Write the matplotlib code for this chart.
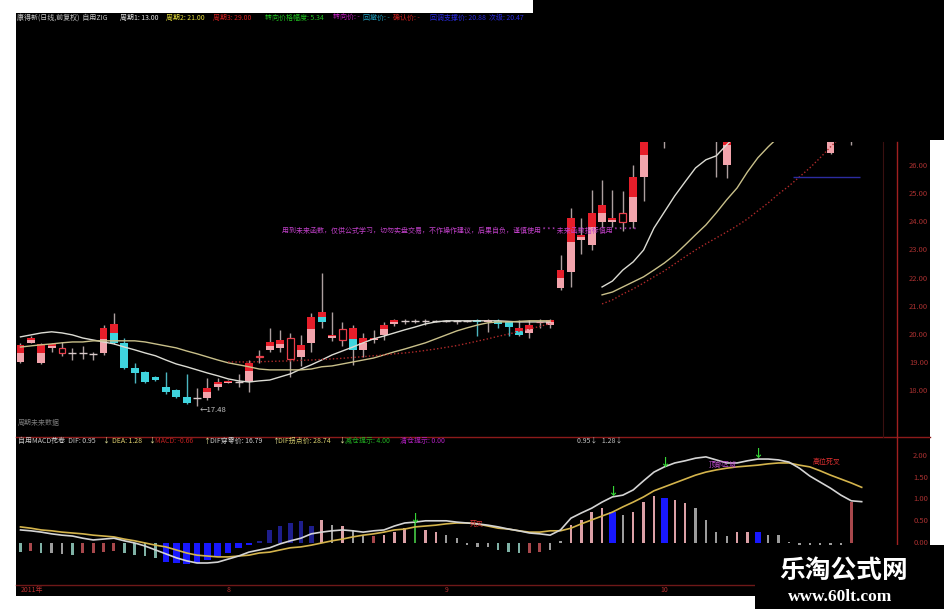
import numpy as np
import matplotlib
matplotlib.use("Agg")
import matplotlib.pyplot as plt
from matplotlib.patches import Rectangle
from matplotlib.lines import Line2D
from matplotlib import transforms

plt.rcParams["font.family"] = ["Noto Sans CJK SC", "DejaVu Sans"]

nan = np.nan

# ---------------- daily quotes ----------------
opens = [19.04, 19.72, 19.00, 19.55, 19.36, 19.33, 19.36, 19.34, 19.36, 19.72,
         19.72, 18.83, 18.69, 18.51, 18.16, 18.05, 17.80, 17.77, 17.77, 18.16,
         18.30, 18.33, 18.33, 19.20, 19.47, 19.54, 19.15, 19.22, 19.72, 20.46,
         19.89, 19.82, 19.47, 19.47, 19.82, 20.00, 20.40, 20.48, 20.49, 20.48,
         20.49, 20.49, 20.48, 20.49, 20.53, 20.46, 20.50, 20.46, 20.00, 20.07,
         20.45, 20.35, 21.67, 22.23, 23.37, 23.19, 24.01, 24.01, 24.01, 24.01,
         25.60, 27.00, 27.80, 28.20, 28.80, 29.20, 29.50, 27.40, 26.03, 27.30,
         27.90, 28.40, 28.60, 28.90, 29.20, 28.90, 28.30, 27.90, 26.45, 27.30,
         27.20, 27.50]
highs = [19.70, 19.96, 19.72, 19.72, 19.75, 19.55, 19.60, 19.40, 20.35, 20.78,
         19.89, 19.01, 18.72, 18.55, 18.69, 18.08, 18.62, 18.12, 18.48, 18.48,
         18.40, 18.62, 19.11, 19.47, 20.25, 20.18, 20.07, 20.00, 20.78, 22.20,
         20.82, 20.46, 20.35, 20.07, 20.18, 20.46, 20.55, 20.55, 20.55, 20.55,
         20.52, 20.52, 20.53, 20.52, 20.55, 20.55, 20.55, 20.50, 20.53, 20.53,
         20.55, 20.55, 22.84, 24.50, 24.15, 25.14, 25.50, 25.14, 25.10, 26.03,
         27.60, 28.20, 28.60, 29.20, 29.60, 30.00, 29.90, 28.30, 27.70, 28.30,
         28.80, 29.00, 29.30, 29.50, 29.60, 29.10, 28.50, 28.10, 27.60, 27.90,
         27.80, 27.90]
lows = [19.00, 19.70, 18.97, 19.40, 19.25, 19.10, 19.15, 19.10, 19.30, 19.68,
        18.80, 18.30, 18.30, 18.37, 17.90, 17.78, 17.55, 17.48, 17.70, 18.05,
        18.28, 18.15, 17.98, 19.01, 19.40, 19.40, 18.51, 18.90, 19.40, 20.25,
        19.80, 19.60, 18.94, 19.20, 19.70, 19.82, 20.30, 20.40, 20.42, 20.35,
        20.45, 20.45, 20.40, 20.45, 19.95, 20.10, 20.25, 19.95, 19.95, 19.90,
        20.25, 20.25, 21.60, 21.70, 22.88, 23.00, 23.83, 23.83, 23.70, 23.80,
        24.75, 26.90, 26.63, 28.00, 28.50, 28.90, 28.60, 25.60, 25.56, 27.00,
        27.60, 28.00, 28.30, 28.60, 28.60, 28.00, 27.60, 27.20, 26.40, 27.00,
        26.75, 27.20]
closes = [19.65, 19.90, 19.68, 19.68, 19.54, 19.35, 19.36, 19.34, 20.25, 20.39,
          18.83, 18.65, 18.33, 18.40, 17.98, 17.80, 17.59, 17.77, 18.12, 18.33,
          18.37, 18.33, 19.01, 19.26, 19.75, 19.82, 19.89, 19.65, 20.64, 20.82,
          20.00, 20.21, 20.25, 19.89, 19.89, 20.35, 20.53, 20.48, 20.49, 20.48,
          20.49, 20.49, 20.48, 20.49, 20.46, 20.53, 20.40, 20.28, 20.25, 20.35,
          20.47, 20.53, 22.30, 24.15, 23.55, 24.33, 24.61, 24.15, 24.33, 25.60,
          27.00, 27.80, 28.20, 28.80, 29.30, 29.60, 29.10, 28.00, 27.30, 27.90,
          28.40, 28.60, 28.90, 29.20, 28.90, 28.30, 27.90, 27.60, 27.30, 27.60,
          27.50, 27.60]
# u = rising, d = falling, h = hollow, x = cross, m = split body
candle_kind = ("uuuuhxxxum" "dddddddxuu" "uxuhuuhuum" "uhmuuuuxxx" "xxxxduddmu"
               "huuuuuuuhu" "uuuuuuduuu" "uuuudddduu" "uu")

ma_fast = [19.93, 20.00, 20.07, 20.11, 20.07, 20.00, 19.89, 19.82, 19.75, 19.68,
           19.57, 19.47, 19.36, 19.26, 19.11, 18.97, 18.87, 18.76, 18.65, 18.55,
           18.44, 18.37, 18.33, 18.37, 18.40, 18.51, 18.62, 18.79, 18.94, 19.11,
           19.29, 19.43, 19.57, 19.72, 19.86, 19.96, 20.07, 20.18, 20.28, 20.39,
           20.46, 20.50, 20.50, 20.50, 20.50, 20.50, 20.50, 20.48, 20.46, 20.46,
           20.46, 20.46, nan, nan, nan, nan, 21.70, 21.91, 22.30, 22.59,
           23.01, 23.79, 24.36, 24.93, 25.43, 25.92, 26.21, 26.35, 26.74, 27.10,
           27.40, 27.70, 27.90, 28.10, 28.30, 28.40, 28.50, 28.60, 28.60, 28.70,
           28.70, 28.70]
ma_mid = [19.57, 19.61, 19.65, 19.68, 19.72, 19.75, 19.75, 19.79, 19.79, 19.79,
          19.79, 19.79, 19.75, 19.68, 19.61, 19.54, 19.43, 19.33, 19.22, 19.11,
          19.01, 18.94, 18.87, 18.79, 18.76, 18.76, 18.76, 18.76, 18.79, 18.87,
          18.90, 18.97, 19.04, 19.11, 19.18, 19.29, 19.40, 19.50, 19.61, 19.72,
          19.86, 20.00, 20.14, 20.25, 20.35, 20.43, 20.46, 20.46, 20.48, 20.50,
          20.50, 20.50, nan, nan, nan, nan, 21.42, 21.52, 21.70, 21.88,
          22.06, 22.30, 22.55, 22.84, 23.19, 23.55, 23.90, 24.33, 24.79, 25.21,
          25.78, 26.28, 26.67, 27.02, 27.30, 27.60, 27.80, 28.00, 28.20, 28.30,
          28.40, 28.45]
ma_slow = [nan, nan, nan, nan, nan, nan, nan, nan, nan, nan,
           nan, nan, nan, nan, nan, nan, nan, nan, nan, nan,
           19.04, 19.04, 19.04, 19.05, 19.06, 19.07, 19.08, 19.10, 19.11, 19.13,
           19.15, 19.17, 19.20, 19.23, 19.26, 19.29, 19.33, 19.36, 19.40, 19.45,
           19.50, 19.56, 19.62, 19.70, 19.78, 19.86, 19.95, 20.03, 20.12, 20.21,
           20.30, 20.40, nan, nan, nan, nan, 21.10, 21.24, 21.45, 21.63,
           21.84, 22.06, 22.27, 22.52, 22.77, 23.01, 23.23, 23.44, 23.65, 23.87,
           24.11, 24.40, 24.68, 25.00, 25.28, 25.60, 25.92, 26.28, 26.67, 27.02,
           27.34, 27.60]
support_level = 25.60
support_span = (74.4, 80.8)
price_ticks = [18, 19, 20, 21, 22, 23, 24, 25, 26]

# ---------------- MACD ----------------
dif = [0.30, 0.28, 0.25, 0.21, 0.18, 0.16, 0.11, 0.07, 0.09, 0.11,
       0.05, 0.00, -0.07, -0.16, -0.25, -0.34, -0.41, -0.46, -0.46, -0.44,
       -0.37, -0.30, -0.21, -0.16, -0.11, -0.02, 0.05, 0.11, 0.21, 0.25,
       0.28, 0.30, 0.28, 0.25, 0.28, 0.30, 0.39, 0.46, 0.48, 0.51,
       0.51, 0.51, 0.48, 0.46, 0.44, 0.41, 0.37, 0.32, 0.28, 0.23,
       0.21, 0.18, 0.30, 0.57, 0.69, 0.80, 0.94, 1.06, 1.10, 1.22,
       1.43, 1.63, 1.75, 1.84, 1.89, 1.95, 1.98, 1.91, 1.84, 1.84,
       1.89, 1.93, 1.93, 1.91, 1.86, 1.72, 1.54, 1.40, 1.26, 1.10,
       0.97, 0.95]
dea = [0.37, 0.34, 0.30, 0.28, 0.25, 0.23, 0.21, 0.18, 0.16, 0.14,
       0.09, 0.05, 0.00, -0.05, -0.09, -0.16, -0.23, -0.28, -0.30, -0.32,
       -0.32, -0.30, -0.28, -0.23, -0.21, -0.16, -0.11, -0.09, -0.05, 0.00,
       0.05, 0.09, 0.14, 0.18, 0.21, 0.25, 0.30, 0.32, 0.37, 0.39,
       0.41, 0.44, 0.46, 0.46, 0.44, 0.39, 0.34, 0.32, 0.28, 0.25,
       0.25, 0.28, 0.28, 0.34, 0.44, 0.53, 0.62, 0.71, 0.83, 0.94,
       1.06, 1.20, 1.29, 1.38, 1.47, 1.56, 1.63, 1.68, 1.72, 1.75,
       1.77, 1.79, 1.82, 1.84, 1.84, 1.79, 1.75, 1.66, 1.56, 1.47,
       1.38, 1.28]
hist = [-0.20, -0.18, -0.24, -0.24, -0.25, -0.28, -0.24, -0.22, -0.20, -0.18,
        -0.22, -0.28, -0.31, -0.35, -0.43, -0.47, -0.48, -0.47, -0.39, -0.31,
        -0.24, -0.12, -0.05, 0.05, 0.30, 0.38, 0.45, 0.50, 0.40, 0.53,
        0.41, 0.38, 0.30, 0.18, 0.15, 0.18, 0.26, 0.34, 0.49, 0.30,
        0.26, 0.18, 0.11, -0.05, -0.10, -0.10, -0.16, -0.20, -0.24, -0.24,
        -0.20, -0.15, 0.05, 0.42, 0.53, 0.72, 0.80, 0.72, 0.64, 0.72,
        0.95, 1.07, 1.03, 0.99, 0.91, 0.80, 0.53, 0.26, 0.15, 0.26,
        0.26, 0.26, 0.18, 0.18, 0.02, -0.06, -0.05, -0.05, -0.05, -0.05,
        0.95, 0.00]
hist_tone = ("crcggcrrrr" "ccccbbbbbb" "bbbddddddp" "gpggrpppGp" "pgggggcccr"
             "rggppppbgp" "ppbppggggp" "pbgggggggg" "rg")
signal_idx = [38, 57, 62, 71]
signal_val = [0.58, 1.20, 1.86, 2.06]
macd_ticks = [0.0, 0.5, 1.0, 1.5, 2.0]

month_idx = [0, 20, 41, 62]
month_labels = ["2011年", "8", "9", "10"]

# ---------------- figure layout (pixel based) ----------------
W, H = 945, 609
fig = plt.figure(figsize=(W / 100, H / 100), dpi=100, facecolor="white")


def fx(x):
    return x / W


def fy(y):
    return 1 - y / H


def black_box(x0, y0, x1, y1, z):
    fig.add_artist(Rectangle((fx(x0), fy(y1)), fx(x1) - fx(x0), fy(y0) - fy(y1),
                             transform=fig.transFigure, facecolor="black",
                             edgecolor="none", zorder=z))


def fig_line(xs, ys, color, lw=1.0, z=1):
    fig.add_artist(Line2D([fx(v) for v in xs], [fy(v) for v in ys],
                          transform=fig.transFigure, color=color, lw=lw, zorder=z))


black_box(16, 13, 930, 596, -5)
black_box(533, 0, 945, 140, -5)

PL, PR = 16, 897
ax = fig.add_axes([fx(PL), fy(437), fx(PR) - fx(PL), fy(142) - fy(437)])
axm = fig.add_axes([fx(PL), fy(584), fx(PR) - fx(PL), fy(437) - fy(584)])
for a in (ax, axm):
    a.set_axis_off()
    a.set_xlim(-0.43, 84.4)
ax.set_ylim(16.38, 26.84)
axm.set_ylim(-0.943, 2.437)

# ---------------- candles ----------------
idx = np.arange(len(closes))
o = np.array(opens)
c = np.array(closes)
hi_ = np.array(highs)
lo_ = np.array(lows)
kind = np.array(list(candle_kind))
body_lo = np.minimum(o, c)
body_hi = np.maximum(o, c)
span = body_hi - body_lo
bw = 0.76

wick_col = np.where(kind == "d", "#4cb6c0", "#ad9f9f")
ax.vlines(idx, lo_, hi_, colors=wick_col, lw=1.0, zorder=2)

RED, PINK, CYAN = "#e61e2a", "#f2a4ac", "#3fd4de"
k = kind == "u"
ax.bar(idx[k], span[k], bottom=body_lo[k], width=bw, color=PINK, zorder=3)
ax.bar(idx[k], span[k] * 0.45, bottom=body_hi[k] - span[k] * 0.45, width=bw,
       color=RED, zorder=4)
k = kind == "m"
ax.bar(idx[k], span[k], bottom=body_lo[k], width=bw, color=CYAN, zorder=3)
ax.bar(idx[k], span[k] * 0.5, bottom=body_hi[k] - span[k] * 0.5, width=bw,
       color=RED, zorder=4)
k = kind == "d"
ax.bar(idx[k], span[k], bottom=body_lo[k], width=bw, color=CYAN, zorder=3)
k = kind == "h"
ax.bar(idx[k], span[k], bottom=body_lo[k], width=bw * 0.85, facecolor="black",
       edgecolor="#e8404c", lw=0.9, zorder=3)
k = kind == "x"
ax.hlines(c[k], idx[k] - bw / 2, idx[k] + bw / 2, colors="#d8caca", lw=1.0, zorder=3)

ax.plot(idx, ma_fast, color="#dcdcd4", lw=1.0, zorder=5)
ax.plot(idx, ma_mid, color="#c9c08a", lw=1.0, zorder=5)
ax.plot(idx, ma_slow, color="#b02a2a", lw=1.0, ls=(0, (1, 1.6)), zorder=5)
ax.hlines(support_level, *support_span, colors="#2c2ca0", lw=1.0, zorder=5)

low_i = int(np.argmin(lo_))
ax.text(low_i + 0.25, lows[low_i], f"←{lows[low_i]:.2f}", color="#c8c8c8",
        fontsize=5.5, ha="left", va="top", zorder=6)

ytr = ax.get_yaxis_transform()
for t in price_ticks:
    ax.text(1.0352, t, f"{t:.2f}", transform=ytr, color="#a83030", fontsize=5.5,
            ha="right", va="center", clip_on=False)

# ---------------- MACD ----------------
tone_color = {"c": "#7fb2a6", "r": "#a8484c", "g": "#9c9c9c", "p": "#dca0a6",
              "b": "#1818ff", "d": "#1e1e8c", "G": "#3aa83a"}
tone_width = {"c": 0.24, "r": 0.28, "g": 0.22, "p": 0.24, "b": 0.64, "d": 0.45,
              "G": 0.24}
hv = np.array(hist)
tones = np.array(list(hist_tone))
for tkey in tone_color:
    k = tones == tkey
    if k.any():
        axm.bar(idx[k], hv[k], width=tone_width[tkey], color=tone_color[tkey],
                zorder=2)

axm.plot(idx, dea, color="#d4b44c", lw=1.2, zorder=4)
axm.plot(idx, dif, color="#d4d4d4", lw=1.2, zorder=5)

for si, sv in zip(signal_idx, signal_val):
    axm.text(si, sv, "↓", color="#36d636", fontsize=8, fontweight="bold",
             ha="center", va="center", zorder=6)
axm.text(43.3, 0.47, "死叉", color="#d83030", fontsize=5, ha="left",
         va="center", zorder=6)
axm.text(67.6, 1.80, "顶部区域", color="#c050d0", fontsize=5, ha="center",
         va="center", zorder=6)
axm.text(77.6, 1.86, "高位死叉", color="#e03030", fontsize=5, ha="center",
         va="center", zorder=6)

mtr = axm.get_yaxis_transform()
for t in macd_ticks:
    axm.text(1.0352, t, f"{t:.2f}", transform=mtr, color="#a83030", fontsize=5.5,
             ha="right", va="center", clip_on=False)

# date row
dtr = transforms.blended_transform_factory(axm.transData, fig.transFigure)
for mi, ml in zip(month_idx, month_labels):
    axm.text(mi, fy(590), ml, transform=dtr, color="#b83030", fontsize=5,
             ha="left" if mi == 0 else "center", va="center", clip_on=False)

# frame lines
fig_line([16, 930], [437, 437], "#8c1a1a", 1.0)
fig_line([897, 897], [142, 596], "#a02020", 1.0)
fig_line([883, 883], [142, 437], "#3a1010", 0.8)
fig_line([16, 930], [585, 585], "#6e1818", 1.0)

# ---------------- header texts ----------------
price_header = [
    (17, "康得新(日线,前复权)  自用ZIG", "#c8c8c8"),
    (120, "周期1: 13.00", "#e2e2e2"),
    (166, "周期2: 21.00", "#e6de3c"),
    (213, "周期3: 29.00", "#d02020"),
    (265, "转向价格幅度: 5.34", "#20c020"),
    (333, "转向价: -", "#c020c0"),
    (363, "回撤价: -", "#20a0c0"),
    (393, "确认价: -", "#d02020"),
    (430, "回调支撑价: 20.88  次级: 20.47", "#2a2ae0"),
]
for px, s, col in price_header:
    fig.text(fx(px), fy(18), s, color=col, fontsize=5, ha="left", va="center")

macd_header = [
    (18, "自用MACD花卷  DIF: 0.95", "#c8c8c8"),
    (102, "↓", "#e8e8a0"),
    (112, "DEA: 1.28", "#e0d070"),
    (148, "↓", "#e8e8a0"),
    (155, "MACD: -0.66", "#c02020"),
    (203, "↑", "#e8e8a0"),
    (210, "DIF穿零价: 16.79", "#d0d0d0"),
    (272, "↑", "#e8e8a0"),
    (278, "DIF拐点价: 28.74", "#d8d070"),
    (338, "↓", "#e8e8a0"),
    (345, "减仓提示: 4.00", "#22b022"),
    (400, "清仓提示: 0.00", "#b020c0"),
    (577, "0.95↓   1.28↓", "#c0c0c0"),
]
for px, s, col in macd_header:
    fig.text(fx(px), fy(441), s, color=col, fontsize=5, ha="left", va="center")

fig.text(fx(282), fy(231),
         "用到未来函数，仅供公式学习，切勿实盘交易，不作操作建议，后果自负，谨慎使用 * * * 未来函数指标慎用 * * * * *",
         color="#c040c8", fontsize=5, ha="left", va="center")
fig.text(fx(18), fy(423), "周期未来数据", color="#7a7a7a", fontsize=5,
         ha="left", va="center")

# ---------------- watermark ----------------
black_box(755, 545, 945, 609, 20)
fig.text(fx(844), fy(570), "乐淘公式网", color="white", fontsize=18.5,
         fontweight="bold", ha="center", va="center", zorder=21)
fig.text(fx(840), fy(597), "www.60lt.com", color="white", fontsize=12.5,
         fontweight="bold", family=["Liberation Serif", "DejaVu Serif"],
         ha="center", va="center", zorder=21)

fig.savefig("out.png", dpi=100, facecolor="white")
